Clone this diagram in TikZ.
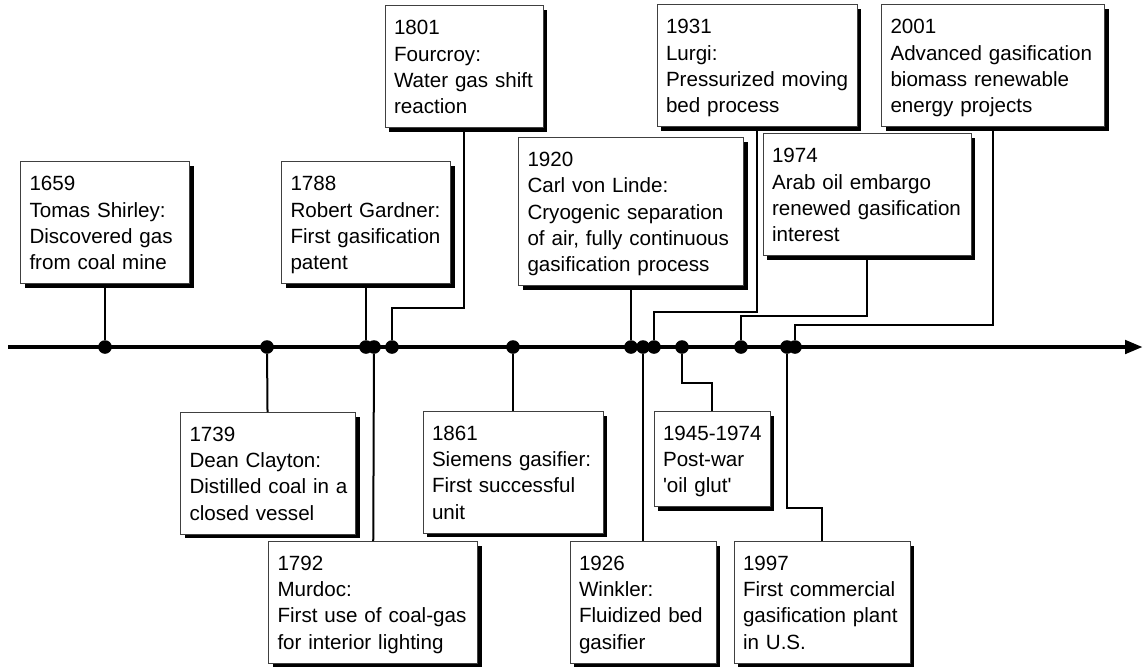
\documentclass[tikz,border=0pt]{standalone}
\usepackage{fontspec}
\setmainfont{Liberation Sans}
\usetikzlibrary{arrows.meta,shadows}

\begin{document}
\begin{tikzpicture}[x = 0.5pt, y = -0.5pt,
                        axis/.style = {line width = 2.25pt, -{Triangle[length = 9pt, width = 6.5pt]}},
                        link/.style = {line width = 1pt},
                        dot/.style = {circle, fill = black, inner sep = 0pt, minimum size = 6.8pt},
                        box/.style = {rectangle, draw = black!75, line width = 0.5pt, fill = white,
                                      drop shadow = {shadow xshift = 2pt, shadow yshift = -2pt, opacity = 1, fill = black},
                                      inner xsep = 2pt, inner ysep = 2pt, text width = #1,
                                      font = \fontsize{10.3pt}{13.1pt}\selectfont,
                                      execute at begin node = {\raggedright\leftskip = 2.5pt\exhyphenpenalty = 10000\hyphenpenalty = 10000\rule{0pt}{12.5pt}},
                                      execute at end node = {\rule[-5pt]{0pt}{5pt}}}]
    \useasboundingbox (0, 0) rectangle (1145, 666);
    \coordinate (t0) at (8, 347);
    \coordinate (t1) at (1143, 347);
    \draw [axis] (t0) -- (t1);
    \node [dot] (d1659) at (105, 347){};
    \node [dot] (d1739) at (267, 347){};
    \node [dot] (d1788) at (366, 347){};
    \node [dot] (d1792) at (374, 347){};
    \node [dot] (d1801) at (392, 347){};
    \node [dot] (d1861) at (513, 347){};
    \node [dot] (d1920) at (631, 347){};
    \node [dot] (d1926) at (643, 347){};
    \node [dot] (d1931) at (654, 347){};
    \node [dot] (d1945) at (682, 347){};
    \node [dot] (d1974) at (741, 347){};
    \node [dot] (d1997) at (787, 347){};
    \node [dot] (d2001) at (795, 347){};
    \node [box = 80.5pt, anchor = south] (b1659) at (105, 284){1659\\Tomas Shirley:\\Discovered gas\\from coal mine};
    \node [box = 80.5pt, anchor = south] (b1788) at (366, 284){1788\\Robert Gardner:\\First gasification\\patent};
    \node [box = 75pt, anchor = south] (b1801) at (464, 128){1801\\Fourcroy:\\Water gas shift\\reaction};
    \node [box = 108.5pt, anchor = south] (b1920) at (631, 286){1920\\Carl von Linde:\\Cryogenic separation\\of air, fully continuous\\gasification process};
    \node [box = 96pt, anchor = south] (b1931) at (757, 127){1931\\Lurgi:\\Pressurized moving\\bed process};
    \node [box = 100pt, anchor = south] (b1974) at (867, 256){1974\\Arab oil embargo\\renewed gasification\\interest};
    \node [box = 107.5pt, anchor = south] (b2001) at (993, 127){2001\\Advanced gasification\\biomass renewable\\energy projects};
    \node [box = 83.5pt, anchor = north] (b1739) at (268, 412){1739\\Dean Clayton:\\Distilled coal in a\\closed vessel};
    \node [box = 100.5pt, anchor = north] (b1792) at (373, 541){1792\\Murdoc:\\First use of coal-gas\\for interior lighting};
    \node [box = 86pt, anchor = north] (b1861) at (513, 411){1861\\Siemens gasifier:\\First successful\\unit};
    \node [box = 69pt, anchor = north] (b1926) at (643, 541){1926\\Winkler:\\Fluidized bed\\gasifier};
    \node [box = 54pt, anchor = north] (b1945) at (712, 411){1945-1974\\Post-war\\\textquotesingle oil glut\textquotesingle};
    \node [box = 84pt, anchor = north] (b1997) at (822, 541){1997\\First commercial\\gasification plant\\in U.S.};
    \draw [link] (b1659) -- (d1659);
    \draw [link] (b1788) -- (d1788);
    \draw [link] (b1801.south) -- ++(0, 180) -| (d1801);
    \draw [link] (b1920) -- (d1920);
    \draw [link] (b1931.south) -- ++(0, 185) -| (d1931);
    \draw [link] (b1974.south) -- ++(0, 60) -| (d1974);
    \draw [link] (b2001.south) -- ++(0, 198) -| (d2001);
    \draw [link] (d1739) -- (b1739);
    \draw [link] (d1792) -- (b1792);
    \draw [link] (d1861) -- (b1861);
    \draw [link] (d1926) -- (b1926);
    \draw [link] (b1945.north) -- ++(0, -28) -| (d1945);
    \draw [link] (b1997.north) -- ++(0, -33) -| (d1997);
  \end{tikzpicture}
\end{document}
